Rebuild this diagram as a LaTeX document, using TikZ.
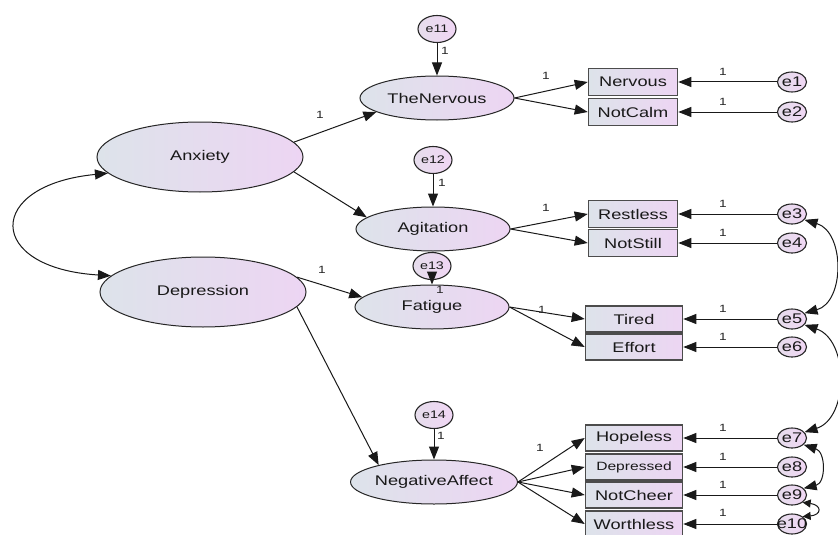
\documentclass[tikz,border=0pt]{standalone}
\usepackage{fontspec}
\setmainfont{Liberation Sans}[FakeStretch=1.3]
\usetikzlibrary{arrows.meta,shapes.geometric}
\definecolor{gL}{HTML}{DDE3EA}
\definecolor{gR}{HTML}{EDD5F3}
\definecolor{eL}{HTML}{E6DDEC}
\definecolor{eR}{HTML}{F0D6F4}
\newcommand\ez[1]{\makebox[0pt]{#1}}
\begin{document}
\begin{tikzpicture}[x=1pt,y=-1pt,
  font=\fontsize{14}{16}\selectfont,
  lat/.style={ellipse, draw=black!85, line width=1pt, left color=gL, right color=gR, minimum width=154pt, minimum height=44pt, inner sep=0pt, text=black!90},
  big/.style={lat, minimum width=206pt, minimum height=70pt},
  obs/.style={rectangle, draw=black!70, line width=1.6pt, left color=gL, right color=gR, minimum width=97pt, minimum height=26pt, inner sep=0pt, text=black!90},
  obss/.style={obs, minimum width=89pt, minimum height=27pt},
  err/.style={ellipse, draw=black!85, line width=1.1pt, left color=eL, right color=eR, minimum width=29pt, minimum height=20pt, inner sep=0pt, font=\fontsize{14}{15}\selectfont, text=black!90},
  errb/.style={err, minimum width=38pt, minimum height=27pt, font=\fontsize{11}{13}\selectfont},
  arr/.style={-{Triangle[length=13pt,width=10pt]}, line width=1pt, draw=black!90},
  dbl/.style={{Triangle[length=13pt,width=10pt]}-{Triangle[length=13pt,width=10pt]}, line width=1pt, draw=black!90},
  dbls/.style={{Triangle[length=8pt,width=8pt]}-{Triangle[length=8pt,width=8pt]}, line width=1pt, draw=black!90},
  one/.style={font=\fontsize{10.5}{12}\selectfont, text=black!85, inner sep=0pt}
]
\clip (0,0) rectangle (838,535);
\fill[white] (0,0) rectangle (838,535);

% second-order latents
\node[big] (Anx) at (200,157) {Anxiety};
\node[big] (Dep) at (203,292) {Depression};

% first-order latents
\node[lat] (TN) at (437,98) {TheNervous};
\node[lat] (Ag) at (433,229) {Agitation};
\node[lat] (Fa) at (432,307) {Fatigue};
\node[lat] (NA) at (434,482) {NegativeAffect};

% disturbances
\node[errb] (e11) at (437,29) {e11};
\node[errb] (e12) at (433,160) {e12};
\node[errb] (e13) at (432,266) {e13};
\node[errb] (e14) at (434,415) {e14};

% indicators
\node[obss] (Ner) at (633,82) {Nervous};
\node[obss] (NC) at (633,112) {NotCalm};
\node[obss] (Res) at (633,214) {Restless};
\node[obss] (NS) at (633,243) {NotStill};
\node[obs] (Ti) at (634,319) {Tired};
\node[obs] (Ef) at (634,347) {Effort};
\node[obs] (Ho) at (634,438) {Hopeless};
\node[obs, font=\fontsize{12}{14}\selectfont] (De) at (634,467) {Depressed};
\node[obs] (NCh) at (634,495) {NotCheer};
\node[obs] (Wo) at (634,524) {Worthless};

% errors
\node[err] (e1) at (792,82) {\ez{e1}};
\node[err] (e2) at (792,112) {\ez{e2}};
\node[err] (e3) at (792,214) {\ez{e3}};
\node[err] (e4) at (792,243) {\ez{e4}};
\node[err] (e5) at (792,319) {\ez{e5}};
\node[err] (e6) at (792,347) {\ez{e6}};
\node[err] (e7) at (792,438) {\ez{e7}};
\node[err] (e8) at (792,467) {\ez{e8}};
\node[err] (e9) at (792,495) {\ez{e9}};
\node[err] (e10) at (792,524) {\ez{e10}};

% structural paths
\draw[arr] (Anx.9) -- (TN.193);
\draw[arr] (Anx.-9) -- (Ag.170);
\draw[arr] (Dep.9) -- (Fa.172);
\draw[arr] (Dep.-9) -- (NA.163);
\draw[dbl] (Anx.190) .. controls (-15,185) and (-15,268) .. (Dep.170);

% disturbances
\draw[arr] (e11) -- (TN);
\draw[arr] (e12) -- (Ag);
\draw[arr] (e13) -- (Fa);
\draw[arr] (e14) -- (NA);

% loadings
\draw[arr] (TN.east) -- (Ner.west);
\draw[arr] (TN.east) -- (NC.west);
\draw[arr] (Ag.east) -- (Res.west);
\draw[arr] (Ag.east) -- (NS.west);
\draw[arr] (Fa.east) -- (Ti.west);
\draw[arr] (Fa.east) -- (Ef.west);
\draw[arr] (NA.east) -- (Ho.west);
\draw[arr] (NA.east) -- (De.west);
\draw[arr] (NA.east) -- (NCh.west);
\draw[arr] (NA.east) -- (Wo.west);

% error paths
\foreach \e/\b in {e1/Ner,e2/NC,e3/Res,e4/NS,e5/Ti,e6/Ef,e7/Ho,e8/De,e9/NCh,e10/Wo}
  \draw[arr] (\e.west) -- (\b.east);

% error covariances
\draw[dbl] (e3.-25) .. controls (845,232) and (845,302) .. (e5.25);
\draw[dbl] (e5.-25) .. controls (849,340) and (849,418) .. (e7.25);
\draw[dbl] (e7.-30) .. controls (826,452) and (826,483) .. (e9.30);
\draw[dbls] (e9.-35) .. controls (822,505) and (822,515) .. (e10.35);

% fixed-parameter labels
\node[one] (l1) at (445,51) {1};
\node[one] (l2) at (546,76) {1};
\node[one] (l3) at (723,72) {1};
\node[one] (l4) at (723,102) {1};
\node[one] (l5) at (320,115) {1};
\node[one] (l6) at (442,183) {1};
\node[one] (l7) at (546,208) {1};
\node[one] (l8) at (723,204) {1};
\node[one] (l9) at (723,233) {1};
\node[one] (l10) at (440,290) {1};
\node[one] (l11) at (542,310) {1};
\node[one] (l12) at (723,309) {1};
\node[one] (l13) at (723,337) {1};
\node[one] (l14) at (322,270) {1};
\node[one] (l15) at (441,436) {1};
\node[one] (l16) at (540,448) {1};
\node[one] (l17) at (723,428) {1};
\node[one] (l18) at (723,457) {1};
\node[one] (l19) at (723,485) {1};
\node[one] (l20) at (723,513) {1};
\end{tikzpicture}
\end{document}
